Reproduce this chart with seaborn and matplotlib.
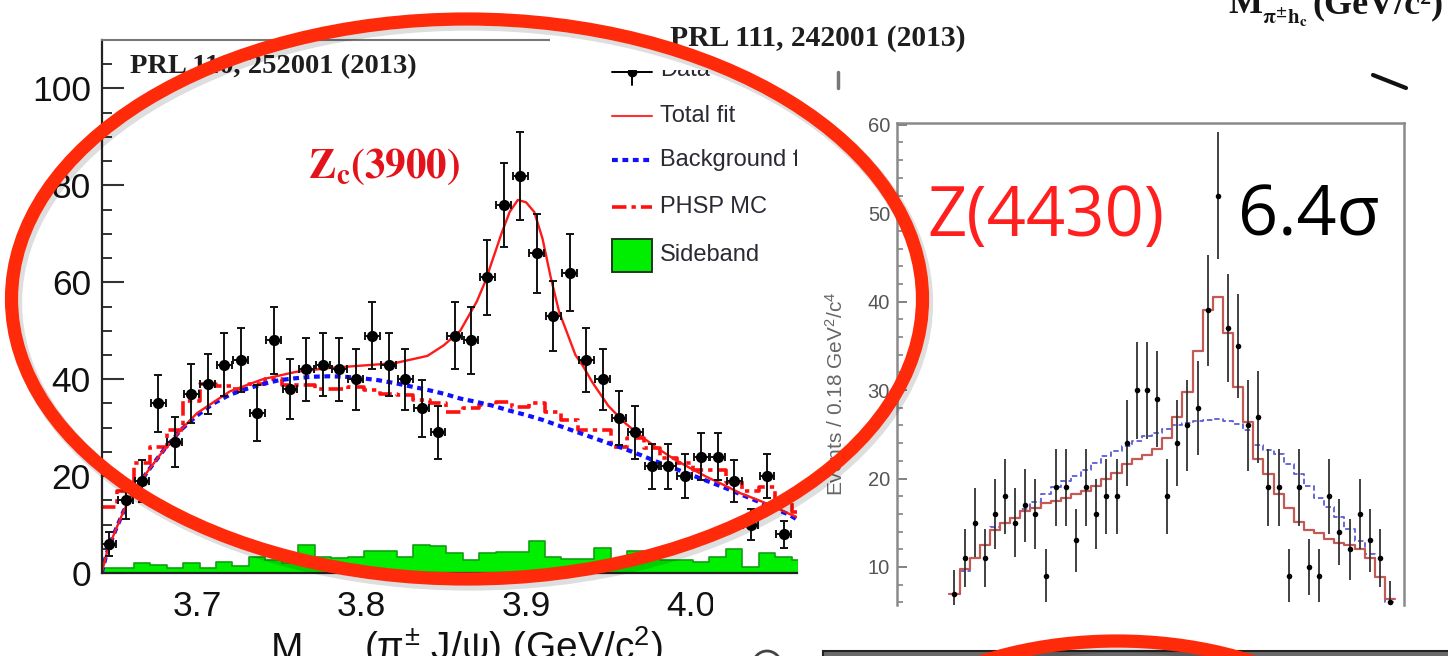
import numpy as np
import pandas as pd
import matplotlib
matplotlib.use("Agg")
import matplotlib.pyplot as plt
import seaborn as sns
from matplotlib.patches import Ellipse, Rectangle, Circle
from matplotlib.lines import Line2D
from matplotlib.transforms import Affine2D
from matplotlib.ticker import MultipleLocator

W, H = 1448, 656

# ---- Z_c(3900) -> pi J/psi, 10 MeV/c^2 bins ----
zc_first_edge = 3.6415
zc_bin_width = 0.01
zc_counts = [6, 15, 19, 35, 27, 37, 39, 43, 44, 33, 48, 38, 42, 43, 42, 40, 49, 43, 40, 34,
             29, 49, 48, 61, 76, 82, 66, 53, 62, 44, 40, 32, 29, 22, 22, 20, 24, 24, 19, 10,
             20, 8]
zc_sideband = [1.0, 1.0, 2.0, 1.7, 1.0, 2.0, 1.0, 2.2, 1.4, 3.3, 2.7, 2.0, 5.8, 3.4, 3.0,
               3.4, 4.5, 4.5, 3.4, 5.8, 5.5, 4.1, 2.7, 4.2, 4.4, 4.4, 6.6, 3.4, 2.8, 2.8,
               5.1, 2.8, 4.6, 3.4, 2.7, 2.7, 2.3, 3.4, 4.9, 1.2, 4.2, 3.4, 2.7]
zc_phsp = [13.6, 17, 22.6, 26, 29.5, 35.6, 39, 38.5, 38, 39, 40, 38.7, 38.7, 38, 38, 38.4,
           37.7, 37, 36.8, 35.7, 35, 33.2, 34, 34.6, 35.3, 34.2, 35, 33.2, 31.5, 29.5, 29.5,
           26, 27.8, 25.8, 23.7, 22.7, 21.2, 21.2, 18.8, 17, 17.7, 15, 12.6]
zc_fit_mass = [3.642, 3.645, 3.65, 3.655, 3.66, 3.67, 3.68, 3.69, 3.70, 3.72, 3.74, 3.76,
               3.78, 3.80, 3.82, 3.84, 3.85, 3.86, 3.865, 3.87, 3.875, 3.88, 3.885, 3.89,
               3.895, 3.90, 3.905, 3.91, 3.915, 3.92, 3.925, 3.93, 3.935, 3.94, 3.95, 3.96,
               3.97, 3.98, 3.99, 4.00, 4.01, 4.02, 4.03, 4.04, 4.05, 4.06, 4.065]
zc_total_fit = [0, 4, 8.5, 12.5, 16, 21, 25.5, 29.5, 33, 37.5, 40, 41.5, 42.3, 42.8, 43.3,
                44.8, 47, 50, 53, 56, 60, 65, 70, 74.5, 77, 76.5, 74.5, 69, 61, 54, 49.5,
                45, 42.5, 39.5, 34.5, 31, 28.2, 25.7, 23.5, 21.6, 19.8, 18.2, 16.5, 15.2,
                13.8, 12.2, 11.5]
zc_bkg_mass = [3.642, 3.645, 3.65, 3.655, 3.66, 3.67, 3.68, 3.69, 3.70, 3.71, 3.72, 3.73,
               3.74, 3.75, 3.76, 3.77, 3.78, 3.79, 3.80, 3.81, 3.82, 3.83, 3.84, 3.85, 3.86,
               3.87, 3.88, 3.89, 3.90, 3.91, 3.92, 3.93, 3.94, 3.95, 3.96, 3.97, 3.98, 3.99,
               4.00, 4.01, 4.02, 4.03, 4.04, 4.05, 4.06, 4.065]
zc_bkg_fit = [0, 4, 8.5, 12.5, 16, 21, 25.5, 29.5, 32.5, 35, 36.8, 38, 39, 39.8, 40.2, 40.5,
              40.6, 40.5, 40.2, 39.8, 39.2, 38.5, 37.8, 37, 36, 35.3, 34.5, 33.5, 32.6, 31.6,
              30.4, 29.2, 28, 26.8, 25.6, 24.3, 22.9, 21.6, 20.3, 19, 17.7, 16.3, 14.9, 13.5,
              12, 11]
zc_xticks = [3.7, 3.8, 3.9, 4.0]
zc_xticklabels = ["3.7", "3.8", "3.9", "4.0"]
zc_yticks = [0, 20, 40, 60, 80, 100]
legend_labels = ["Data", "Total fit", "Background fit", "PHSP MC", "Sideband"]

# ---- Z(4430) -> pi psi', 0.18 GeV^2 bins ----
z4430_first_edge = 16.0
z4430_bin_width = 0.18
z4430_counts = [7, 11, 15, 11, 16, 18, 15, 17, 16, 9, 19, 19, 13, 19, 16, 18, 18, 24, 30, 30,
                29, 18, 24, 26, 28, 39, 52, 37, 35, 26, 27, 19, 19, 9, 19, 10, 9, 18, 14, 12,
                16, 13, 11, 6]
z4430_fit = [7, 9.8, 11, 12.5, 14.2, 15, 15.5, 16.3, 16.7, 17.2, 17.5, 17.8, 18.2, 18.6,
             19.2, 19.9, 20.6, 21.6, 22.2, 22.7, 23.3, 24.6, 27, 29.8, 34.4, 39, 40.5, 36.5,
             30.4, 26.4, 22.2, 20.5, 18.2, 16.7, 15.1, 14.2, 13.8, 13.2, 12.7, 12.5, 12, 11,
             8.9, 6.4]
z4430_bkg = [7, 9.5, 11, 12.5, 14.5, 15, 15.5, 16.5, 17.4, 18.2, 19, 19.7, 20.3, 21, 21.8,
             22.5, 23.1, 23.7, 24.3, 24.8, 25.2, 25.6, 26, 26.3, 26.5, 26.6, 26.7, 26.5, 26.2,
             25.5, 23.8, 23.2, 22.8, 21.6, 20.5, 19.2, 17.8, 16.8, 15.7, 14.3, 12.9, 11.5,
             8.9, 6]
z4430_yticks = [10, 20, 30, 40, 50, 60]

sns.set_theme(style="white")
plt.rcParams["font.family"] = ["Liberation Sans", "DejaVu Sans"]
plt.rcParams["mathtext.fontset"] = "custom"
plt.rcParams["mathtext.rm"] = "Liberation Sans"
plt.rcParams["mathtext.it"] = "Liberation Sans:italic"
plt.rcParams["mathtext.bf"] = "Liberation Sans:bold"

fig = plt.figure(figsize=(W / 100, H / 100), dpi=100)
fig.patch.set_facecolor("white")
# pixel coordinates, origin at the top-left corner of the canvas
px = Affine2D().scale(1.0 / W, -1.0 / H).translate(0, 1) + fig.transFigure


def rect(left, top, right, bottom):
    return [left / W, 1 - bottom / H, (right - left) / W, (bottom - top) / H]


def step_hist(ax, centers, heights, edges, **kw):
    frame = pd.DataFrame({"m": centers, "n": heights})
    sns.histplot(data=frame, x="m", weights="n", bins=list(edges), element="step",
                 ax=ax, **kw)


def ptext(x, y, s, **kw):
    return fig.text(x / W, 1 - y / H, s, **kw)


# ================= left panel: Z_c(3900) =================
ax1 = fig.add_axes(rect(102, 40, 797, 573))
zc_edges = zc_first_edge + zc_bin_width * np.arange(len(zc_sideband) + 1)
zc_centers = zc_edges[:-1] + zc_bin_width / 2
zc_data_x = zc_centers[:len(zc_counts)]

step_hist(ax1, zc_centers, zc_sideband, zc_edges, fill=True, color="#00ee00", alpha=1.0,
          linewidth=1.2, edgecolor="#11a011")
step_hist(ax1, zc_centers, zc_phsp, zc_edges, fill=False, color="#ff1010", linewidth=2.6,
          linestyle=(0, (4, 1.4, 1.2, 1.4)))
sns.lineplot(x=zc_bkg_mass, y=zc_bkg_fit, color="#1010ff", linewidth=3.0,
             linestyle=(0, (1.4, 1.1)), ax=ax1)
sns.lineplot(x=zc_fit_mass, y=zc_total_fit, color="#ff1a1a", linewidth=1.7, ax=ax1)
counts = np.array(zc_counts, dtype=float)
ax1.errorbar(zc_data_x, counts, yerr=np.sqrt(counts), xerr=zc_bin_width / 2 * 0.9,
             fmt="none", ecolor="#111111", elinewidth=1.4, capsize=3.2, capthick=1.4, zorder=5)
sns.scatterplot(x=zc_data_x, y=counts, color="black", s=65, marker="o", edgecolor="black",
                linewidth=0, ax=ax1, zorder=6)

ax1.set_xlim(3.6422, 4.0647)
ax1.set_ylim(0, 110)
ax1.set_xlabel("")
ax1.set_ylabel("")
ax1.set_xticks(zc_xticks, zc_xticklabels)
ax1.set_yticks(zc_yticks)
ax1.yaxis.set_minor_locator(MultipleLocator(5))
ax1.tick_params(axis="y", which="major", direction="in", length=16, width=1.5,
                color="#333333", labelsize=25.5, pad=8, labelcolor="#111111", left=True)
ax1.tick_params(axis="y", which="minor", direction="in", length=7.5, width=1.4,
                color="#333333", left=True)
ax1.tick_params(axis="x", length=0, labelsize=25.5, pad=12, labelcolor="#111111")
ax1.spines["right"].set_visible(False)
ax1.spines["top"].set_color("#777777")
ax1.spines["top"].set_linewidth(1.5)
for s in ("left", "bottom"):
    ax1.spines[s].set_color("#222222")
    ax1.spines[s].set_linewidth(1.6)

# legend block (clipped by the panel edge)
leg_y = [70, 116, 160, 207, 255]
txt_kw = dict(transform=px, fontsize=17, color="#2a2a33", va="center", ha="left", clip_on=True)
for lab, y in zip(legend_labels, leg_y):
    ax1.text(660, y, lab, **txt_kw)
ax1.add_line(Line2D([612, 652], [72, 72], transform=px, color="black", lw=1.4))
ax1.add_line(Line2D([632, 632], [64, 85], transform=px, color="black", lw=1.4))
ax1.add_line(Line2D([632], [72], transform=px, color="black", marker="o", ms=6))
ax1.add_line(Line2D([612, 652], [116, 116], transform=px, color="#ff3030", lw=1.5))
ax1.add_line(Line2D([612, 652], [160, 160], transform=px, color="#1010ff", lw=3.0,
                    linestyle=(0, (1.4, 1.1))))
ax1.add_line(Line2D([612, 652], [207, 207], transform=px, color="#ff1010", lw=2.6,
                    linestyle=(0, (4, 1.4, 1.2, 1.4))))
ax1.add_patch(Rectangle((612, 239), 40, 33, transform=px, facecolor="#00ee00",
                        edgecolor="#1c3a1c", lw=1.4))

# ================= right panel: Z(4430) =================
ax2 = fig.add_axes(rect(897, 123, 1404, 605))
z_edges = z4430_first_edge + z4430_bin_width * np.arange(len(z4430_counts) + 1)
z_centers = z_edges[:-1] + z4430_bin_width / 2
step_hist(ax2, z_centers, z4430_bkg, z_edges, fill=False, color="#5c5cd6", linewidth=1.3,
          linestyle=(0, (3, 1.6)))
step_hist(ax2, z_centers, z4430_fit, z_edges, fill=False, color="#c45a55", linewidth=1.6)
zcounts = np.array(z4430_counts, dtype=float)
ax2.errorbar(z_centers, zcounts, yerr=np.sqrt(zcounts), fmt="none", ecolor="#333333",
             elinewidth=1.3, zorder=5)
sns.scatterplot(x=z_centers, y=zcounts, color="black", s=16, linewidth=0, ax=ax2, zorder=6)
ax2.set_xlim(15.069, 24.078)
ax2.set_ylim(5.7, 60.2)
ax2.set_xlabel("")
ax2.set_ylabel("")
ax2.set_xticks([])
ax2.set_yticks(z4430_yticks)
ax2.yaxis.set_minor_locator(MultipleLocator(2))
ax2.tick_params(axis="y", which="major", direction="in", length=7, width=1.3, color="#777777",
                labelsize=14.5, labelcolor="#555555", pad=5, left=True)
ax2.tick_params(axis="y", which="minor", direction="in", length=4, width=1.1,
                color="#777777", left=True)
ax2.spines["bottom"].set_visible(False)
for s in ("left", "top", "right"):
    ax2.spines[s].set_color("#8a8a8a")
    ax2.spines[s].set_linewidth(1.8)
ptext(836, 394, "Events / 0.18 GeV$^2$/c$^4$", rotation=90, fontsize=15,
      color="#666666", ha="center", va="center")

# ================= page-level annotations =================
fig.add_artist(Rectangle((550, -5), 290, 75, transform=px, facecolor="white",
                         edgecolor="none", zorder=2))
fig.add_artist(Rectangle((713, 597), 100, 70, transform=px, facecolor="white",
                         edgecolor="none", zorder=2))

# x-axis title of the left panel, running off the bottom of the page
ptext(271, 660, "M", fontsize=28, color="#111111", va="baseline", ha="left")
ptext(364, 660, "(π$^{\\pm}$ J/ψ) (GeV/c$^{2}$)", fontsize=28,
      color="#111111", va="baseline", ha="left")

ptext(130, 67, "PRL 110, 252001 (2013)", family="Liberation Serif",
      weight="bold", fontsize=20.5, color="#1e1e1e", va="center", ha="left", zorder=3)
ptext(670, 38, "PRL 111, 242001 (2013)", family="Liberation Serif",
      weight="bold", fontsize=21.3, color="#1e1e1e", va="center", ha="left", zorder=3)
ptext(308, 178, r"$\mathbf{Z_{c}(3900)}$", math_fontfamily="stix",
      fontsize=29.5, color="#e3121b", va="baseline", ha="left", zorder=3)

# axis title of a neighbouring plot, cut by the top of the page
ptext(1228, 13, "M", family="Liberation Serif", weight="bold", fontsize=26,
      color="#151515", va="baseline", ha="left", zorder=3)
ptext(1262, 24, r"$\mathbf{\pi^{\pm}h_{c}}$", math_fontfamily="stix", fontsize=15,
      color="#151515", va="baseline", ha="left", zorder=3)
ptext(1312, 13, "(GeV/c²)", family="Liberation Serif", weight="bold", fontsize=26,
      color="#151515", va="baseline", ha="left", zorder=3)

ptext(927, 236, "Z(4430)", family="Open Sans", fontsize=49.5, color="#ff1f1f",
      va="baseline", ha="left", zorder=3)
ptext(1238, 236, "6.4σ", family="Open Sans", fontsize=50.5, color="black",
      va="baseline", ha="left", zorder=3)

fig.add_artist(Line2D([838, 838], [72, 88], transform=px, color="#777777", lw=2.5, zorder=3))
fig.add_artist(Line2D([1373, 1406], [75, 88], transform=px, color="#111111", lw=3, zorder=3))
fig.add_artist(Rectangle((823, 651), 630, 10, transform=px, facecolor="#6a6a6a",
                         edgecolor="#222222", lw=1.5, zorder=3))
fig.add_artist(Circle((767, 665), 14, transform=px, fill=False, edgecolor="#444444", lw=2,
                      zorder=3))

# highlight rings
for cx, cy, ew, eh in [(467, 299, 911, 560), (1117, 806, 560, 330)]:
    fig.add_artist(Ellipse((cx + 3, cy + 4), ew, eh, transform=px, fill=False,
                           edgecolor="black", lw=11, alpha=0.13, zorder=9))
    fig.add_artist(Ellipse((cx, cy), ew, eh, transform=px, fill=False,
                           edgecolor="#ff2a0a", lw=9.5, zorder=10))

fig.savefig("out.png", dpi=100, facecolor="white")
